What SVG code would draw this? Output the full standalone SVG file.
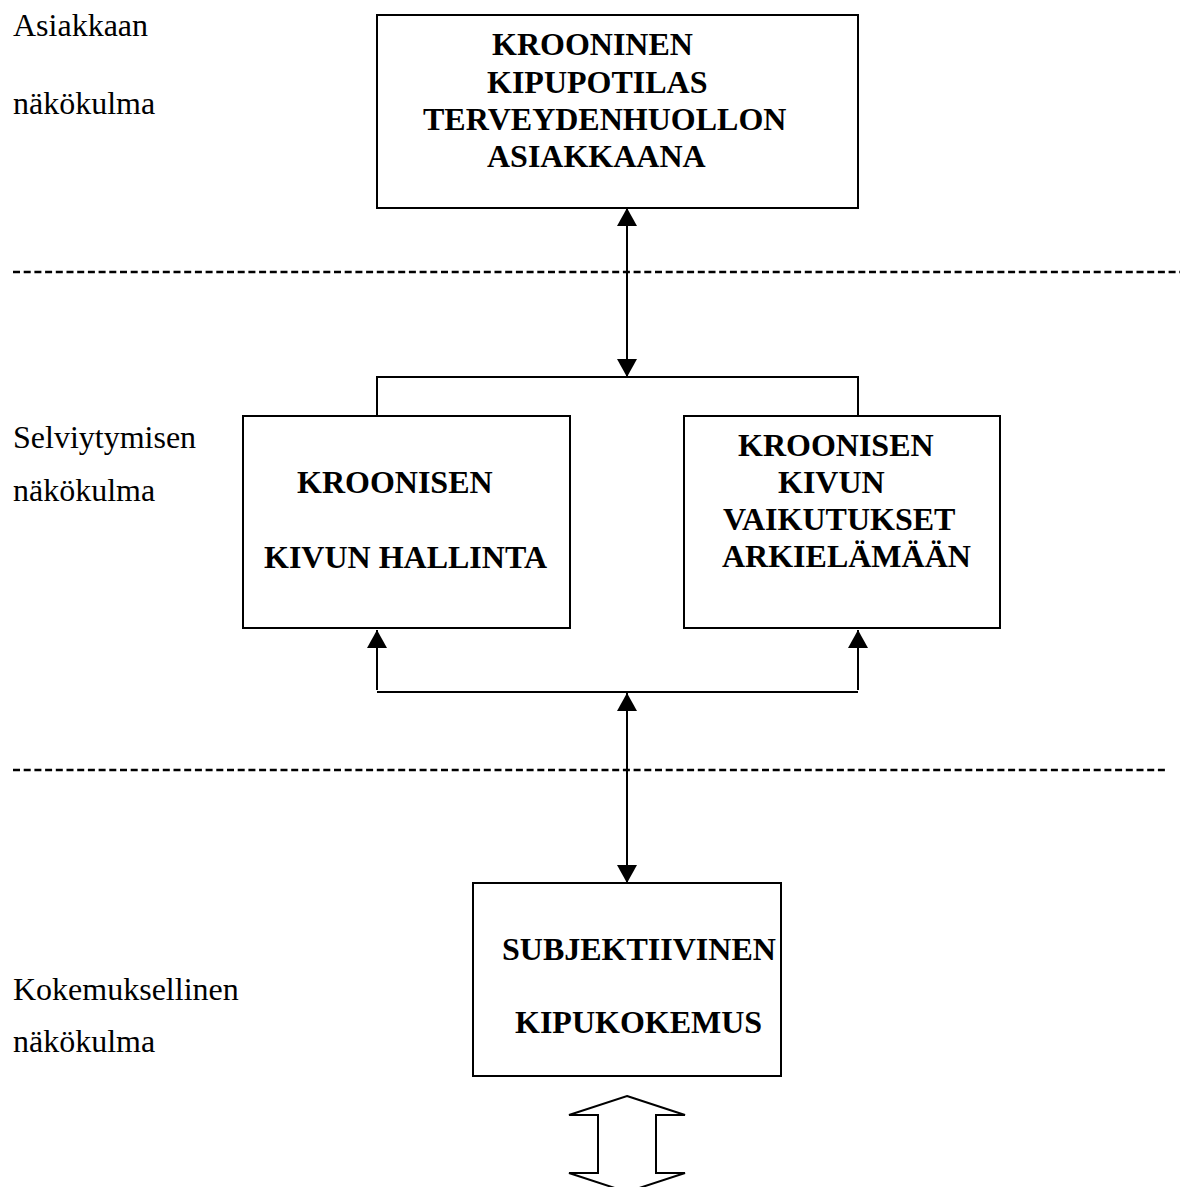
<svg xmlns="http://www.w3.org/2000/svg" width="1181" height="1187" viewBox="0 0 1181 1187">
  <style>
    .box { fill: #fff; stroke: #000; stroke-width: 2; }
    .title { font-family: "Liberation Serif", "Times New Roman", serif; font-weight: bold; font-size: 32px; fill: #000; }
    .label { font-family: "Liberation Serif", "Times New Roman", serif; font-size: 32px; fill: #000; }
    .line { fill: none; stroke: #000; stroke-width: 2; }
    .divider { fill: none; stroke: #000; stroke-width: 2.5; stroke-dasharray: 7 3.7; }
    .hollow { fill: #fff; stroke: #000; stroke-width: 2; stroke-linejoin: miter; }
  </style>
  <defs>
    <marker id="head" markerUnits="userSpaceOnUse" markerWidth="20" markerHeight="20" viewBox="0 0 20 20" refX="18" refY="10" orient="auto-start-reverse">
      <path d="M0,0 L18,10 L0,20 Z" fill="#000"/>
    </marker>
  </defs>

  <rect width="1181" height="1187" fill="#fff"/>

  <!-- level labels -->
  <g id="labels">
    <text class="label" x="13" y="36">Asiakkaan</text>
    <text class="label" x="13" y="114">näkökulma</text>
    <text class="label" x="13" y="448">Selviytymisen</text>
    <text class="label" x="13" y="501">näkökulma</text>
    <text class="label" x="13" y="1000">Kokemuksellinen</text>
    <text class="label" x="13" y="1052">näkökulma</text>
  </g>

  <!-- level dividers -->
  <g id="dividers">
    <line class="divider" x1="13" y1="272" x2="1180" y2="272"/>
    <line class="divider" x1="13" y1="770" x2="1168" y2="770"/>
  </g>

  <g id="connectors">
    <!-- patient level <-> coping level -->
    <line class="line" x1="627" y1="208" x2="627" y2="377" marker-start="url(#head)" marker-end="url(#head)"/>
    <polyline class="line" points="377,416 377,377 858,377 858,416"/>
    <!-- experience level -> coping boxes -->
    <line class="line" x1="377" y1="690" x2="377" y2="630" marker-end="url(#head)"/>
    <line class="line" x1="858" y1="690" x2="858" y2="630" marker-end="url(#head)"/>
    <line class="line" x1="377" y1="692" x2="858" y2="692"/>
    <line class="line" x1="627" y1="883" x2="627" y2="693" marker-start="url(#head)" marker-end="url(#head)"/>
    <!-- open double arrow below the experience box -->
    <polygon class="hollow" points="627,1096 685,1115 656,1115 656,1173 685,1173 627,1192 569,1173 598,1173 598,1115 569,1115"/>
  </g>

  <g id="node-asiakas">
    <rect class="box" x="377" y="15" width="481" height="193"/>
    <text class="title" x="492" y="55">KROONINEN</text>
    <text class="title" x="487" y="93">KIPUPOTILAS</text>
    <text class="title" x="423" y="130">TERVEYDENHUOLLON</text>
    <text class="title" x="487" y="167">ASIAKKAANA</text>
  </g>

  <g id="node-hallinta">
    <rect class="box" x="243" y="416" width="327" height="212"/>
    <text class="title" x="297" y="493">KROONISEN</text>
    <text class="title" x="264" y="568">KIVUN HALLINTA</text>
  </g>

  <g id="node-vaikutukset">
    <rect class="box" x="684" y="416" width="316" height="212"/>
    <text class="title" x="738" y="456">KROONISEN</text>
    <text class="title" x="778" y="493">KIVUN</text>
    <text class="title" x="723" y="530">VAIKUTUKSET</text>
    <text class="title" x="722" y="567">ARKIELÄMÄÄN</text>
  </g>

  <g id="node-kipukokemus">
    <rect class="box" x="473" y="883" width="308" height="193"/>
    <text class="title" x="502" y="960">SUBJEKTIIVINEN</text>
    <text class="title" x="515" y="1033">KIPUKOKEMUS</text>
  </g>
</svg>
